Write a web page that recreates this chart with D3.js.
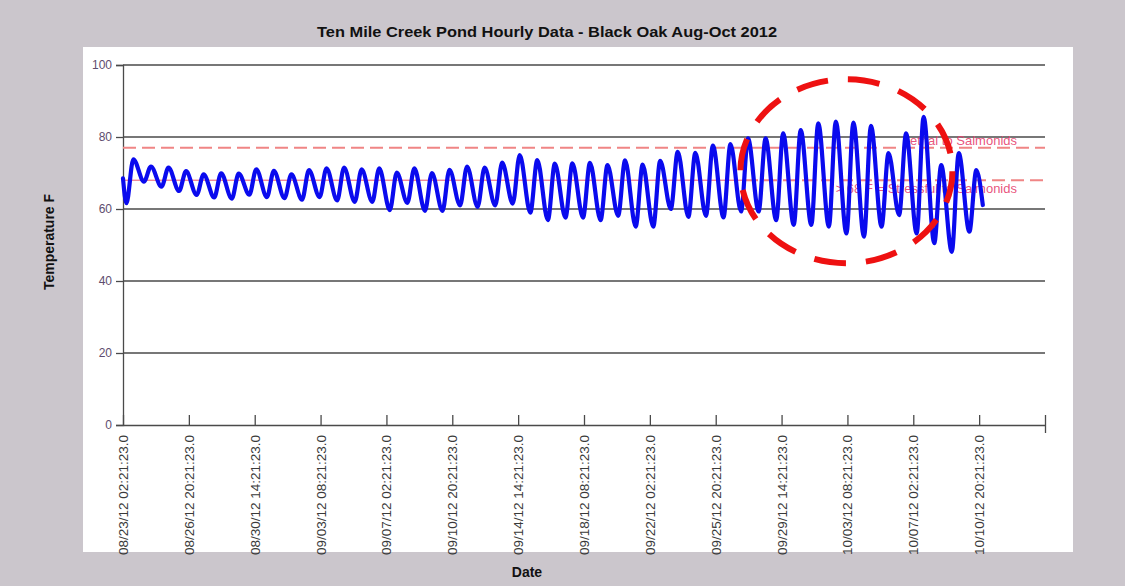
<!DOCTYPE html>
<html>
<head>
<meta charset="utf-8">
<script src="https://cdn.jsdelivr.net/npm/d3@7"></script>
<style>
  body { margin: 0; background: #cbc6cc; }
  svg { display: block; font-family: Arial, "Liberation Sans", sans-serif; }
</style>
</head>
<body>
<svg width="1125" height="586"></svg>
<script>
// tick labels on the date axis (every 90 hours)
var tickLabels = ["08/23/12 02:21:23", "08/26/12 20:21:23", "08/30/12 14:21:23", "09/03/12 08:21:23",
  "09/07/12 02:21:23", "09/10/12 20:21:23", "09/14/12 14:21:23", "09/18/12 08:21:23",
  "09/22/12 02:21:23", "09/25/12 20:21:23", "09/29/12 14:21:23", "10/03/12 08:21:23",
  "10/07/12 02:21:23", "10/10/12 20:21:23"];
var axisEnd = "10/14/12 14:21:23";

// one entry per day: morning low and afternoon high (deg F)
var days = ["08/23/12", "08/24/12", "08/25/12", "08/26/12", "08/27/12", "08/28/12", "08/29/12",
  "08/30/12", "08/31/12", "09/01/12", "09/02/12", "09/03/12", "09/04/12", "09/05/12", "09/06/12",
  "09/07/12", "09/08/12", "09/09/12", "09/10/12", "09/11/12", "09/12/12", "09/13/12", "09/14/12",
  "09/15/12", "09/16/12", "09/17/12", "09/18/12", "09/19/12", "09/20/12", "09/21/12", "09/22/12",
  "09/23/12", "09/24/12", "09/25/12", "09/26/12", "09/27/12", "09/28/12", "09/29/12", "09/30/12",
  "10/01/12", "10/02/12", "10/03/12", "10/04/12", "10/05/12", "10/06/12", "10/07/12", "10/08/12",
  "10/09/12", "10/10/12"];
var dailyLow = [61.6, 67.6, 66.2, 65.0, 63.9, 63.2, 62.9, 64.0, 63.3, 63.0, 62.6, 63.3, 62.4, 62.0, 62.0,
  59.7, 61.7, 59.5, 59.5, 61.0, 60.6, 61.0, 61.5, 59.0, 56.9, 57.6, 57.6, 56.9, 58.1, 55.1, 55.1,
  60.0, 57.8, 58.1, 57.7, 59.3, 59.3, 56.9, 55.6, 55.6, 55.1, 53.2, 52.3, 55.1, 58.3, 53.2, 50.5,
  48.1, 53.7];
var dailyHigh = [73.8, 71.8, 71.5, 70.5, 69.6, 69.9, 69.8, 71.0, 70.6, 69.6, 70.8, 71.3, 71.5, 71.0, 71.3,
  70.1, 71.3, 70.0, 70.9, 71.8, 71.5, 72.9, 75.0, 73.6, 72.6, 72.7, 72.8, 72.2, 73.5, 72.3, 73.4,
  75.9, 75.6, 77.6, 78.0, 79.6, 79.6, 81.0, 81.9, 83.8, 84.3, 84.0, 83.1, 75.5, 81.0, 85.6, 72.2,
  75.5, 70.8];
var lowTime = "07:00:00", highTime = "16:30:00";
var firstReading = ["08/23/12 02:21:23", 68.5];
var lastReading = ["10/11/12 01:21:23", 61.1];

// threshold lines
var thresholds = [
  { value: 77, label: "Lethal to Salmonids" },
  { value: 68, label: "> 68 F = Stressful to Salmonids" }
];
var yTicks = [0, 20, 40, 60, 80, 100];

var parse = d3.timeParse("%m/%d/%y %H:%M:%S");
var fmt = d3.timeFormat("%m/%d/%y %H:%M:%S.0");

var series = [[parse(firstReading[0]), firstReading[1]]];
for (var i = 0; i < days.length; i++) {
  series.push([parse(days[i] + " " + lowTime), dailyLow[i]]);
  series.push([parse(days[i] + " " + highTime), dailyHigh[i]]);
}
series.push([parse(lastReading[0]), lastReading[1]]);

var svg = d3.select("svg");

// white panel
svg.append("rect").attr("x", 83).attr("y", 47).attr("width", 990).attr("height", 505)
  .attr("fill", "#ffffff");

var plotL = 123, plotR = 1045, plotT = 65, plotB = 425;

var x = d3.scaleTime()
  .domain([parse(tickLabels[0]), parse(axisEnd)])
  .range([plotL, plotR]);
var y = d3.scaleLinear().domain([0, 100]).range([plotB, plotT]);

// title
svg.append("text").attr("x", 547).attr("y", 37).attr("text-anchor", "middle")
  .attr("font-size", "15px").attr("font-weight", "bold").attr("fill", "#111")
  .attr("textLength", 460).attr("lengthAdjust", "spacingAndGlyphs")
  .text("Ten Mile Creek Pond Hourly Data - Black Oak Aug-Oct 2012");

// horizontal grid
svg.append("g").selectAll("line").data(yTicks.filter(function(d) { return d > 0; }))
  .join("line")
  .attr("x1", plotL).attr("x2", plotR)
  .attr("y1", function(d) { return y(d); }).attr("y2", function(d) { return y(d); })
  .attr("stroke", "#4a4a4a").attr("stroke-width", 1.3);

// y axis
var yAxis = d3.axisLeft(y).tickValues(yTicks).tickSize(7).tickPadding(4);
var gy = svg.append("g").attr("transform", "translate(" + plotL + ",0)").call(yAxis);
gy.select(".domain").attr("stroke", "#4a4a4a").attr("stroke-width", 1.3);
gy.selectAll(".tick line").attr("stroke", "#4a4a4a").attr("stroke-width", 1.3);
gy.selectAll(".tick text").attr("font-size", "12px").attr("fill", "#5e4d6e")
  .attr("font-family", "Arial, 'Liberation Sans', sans-serif");

// x axis: ticks point up, labels vertical underneath
var tickDates = tickLabels.map(parse).concat([parse(axisEnd)]);
var xAxis = d3.axisTop(x).tickValues(tickDates).tickSize(10).tickSizeOuter(0)
  .tickFormat(function(d, i) { return i < tickLabels.length ? fmt(d) : ""; });
var gx = svg.append("g").attr("transform", "translate(0," + plotB + ")").call(xAxis);
gx.select(".domain").attr("stroke", "#4a4a4a").attr("stroke-width", 1.3);
gx.selectAll(".tick line").attr("stroke", "#4a4a4a").attr("stroke-width", 1.3);
gx.selectAll(".tick").filter(function(d, i) { return i === tickLabels.length; })
  .select("line").attr("y2", 8).attr("y1", -10);
gx.selectAll(".tick text")
  .attr("font-size", "13px").attr("fill", "#3a3a3a")
  .attr("font-family", "Arial, 'Liberation Sans', sans-serif")
  .attr("textLength", 120).attr("lengthAdjust", "spacingAndGlyphs")
  .attr("transform", "rotate(-90)")
  .attr("text-anchor", "end").attr("x", -10).attr("y", 0).attr("dy", "0.35em");

// threshold lines
svg.append("line").attr("x1", plotL).attr("x2", 745)
  .attr("y1", y(68)).attr("y2", y(68))
  .attr("stroke", "#e8566a").attr("stroke-width", 1);
svg.append("g").selectAll("line").data(thresholds).join("line")
  .attr("x1", function(d) { return d.value === 68 ? 745 : plotL; }).attr("x2", plotR)
  .attr("y1", function(d) { return y(d.value); }).attr("y2", function(d) { return y(d.value); })
  .attr("stroke", "#f08585").attr("stroke-width", 2).attr("stroke-dasharray", "13,6");

// threshold labels (sit under the data line)
svg.append("g").selectAll("text").data(thresholds).join("text")
  .attr("x", 1017).attr("y", function(d) { return y(d.value) + (d.value === 77 ? -3 : 13); })
  .attr("text-anchor", "end").attr("font-size", "13px").attr("fill", "#e6406e")
  .attr("fill-opacity", 0.9)
  .text(function(d) { return d.label; });

// temperature line
var line = d3.line()
  .x(function(d) { return x(d[0]); })
  .y(function(d) { return y(d[1]); })
  .curve(d3.curveMonotoneX);
svg.append("path").datum(series).attr("d", line)
  .attr("fill", "none").attr("stroke", "#0a0aee").attr("stroke-width", 4.2)
  .attr("stroke-linejoin", "round").attr("stroke-linecap", "round");

// red dashed ellipse around the last weeks
svg.append("ellipse")
  .attr("cx", x(parse("10/03/12 08:21:23")) - 1).attr("cy", y(70.5))
  .attr("rx", 106).attr("ry", 92)
  .attr("fill", "none").attr("stroke", "#ee1111").attr("stroke-width", 6)
  .attr("stroke-dasharray", "32,20");

// axis titles
svg.append("text").attr("transform", "translate(54,242) rotate(-90)")
  .attr("text-anchor", "middle").attr("font-size", "14px").attr("font-weight", "bold")
  .attr("fill", "#111").text("Temperature F");
svg.append("text").attr("x", 527).attr("y", 577).attr("text-anchor", "middle")
  .attr("font-size", "14px").attr("font-weight", "bold").attr("fill", "#111").text("Date");
</script>
</body>
</html>
